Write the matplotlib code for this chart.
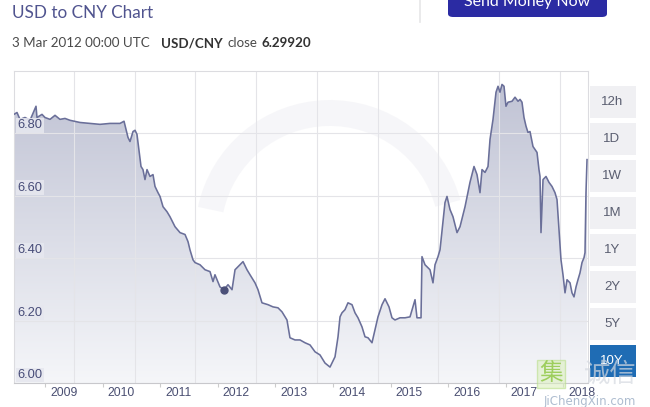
import numpy as np
import matplotlib
matplotlib.use("Agg")
import matplotlib.pyplot as plt
from matplotlib.colors import LinearSegmentedColormap
from matplotlib.patches import Rectangle, FancyBboxPatch, Polygon, Wedge
from matplotlib.transforms import ScaledTranslation

# USD/CNY close (fractional year, rate)
dates = [2008.462, 2008.514, 2008.566, 2008.653, 2008.740, 2008.844, 2008.861, 2008.948,
         2009.000, 2009.087, 2009.174, 2009.260, 2009.347, 2009.434, 2009.608, 2009.781,
         2009.955, 2010.128, 2010.302, 2010.372, 2010.441, 2010.476, 2010.528, 2010.563,
         2010.597, 2010.667, 2010.701, 2010.736, 2010.771, 2010.823, 2010.875, 2010.910,
         2010.962, 2010.997, 2011.049, 2011.118, 2011.170, 2011.257, 2011.344, 2011.431,
         2011.483, 2011.517, 2011.569, 2011.604, 2011.691, 2011.778, 2011.865, 2011.917,
         2011.951, 2012.038, 2012.108, 2012.177, 2012.247, 2012.299, 2012.385, 2012.438,
         2012.507, 2012.559, 2012.646, 2012.698, 2012.767, 2012.872, 2012.958, 2013.045,
         2013.115, 2013.201, 2013.253, 2013.340, 2013.427, 2013.514, 2013.601, 2013.688,
         2013.774, 2013.861, 2013.948, 2014.035, 2014.087, 2014.122, 2014.156, 2014.208,
         2014.260, 2014.330, 2014.382, 2014.434, 2014.503, 2014.556, 2014.608, 2014.677,
         2014.729, 2014.781, 2014.851, 2014.903, 2014.972, 2015.024, 2015.076, 2015.163,
         2015.250, 2015.337, 2015.424, 2015.458, 2015.528, 2015.545, 2015.597, 2015.684,
         2015.736, 2015.771, 2015.823, 2015.858, 2015.944, 2015.979, 2016.031, 2016.083,
         2016.153, 2016.205, 2016.292, 2016.378, 2016.448, 2016.500, 2016.552, 2016.587,
         2016.639, 2016.691, 2016.726, 2016.778, 2016.830, 2016.865, 2016.899, 2016.934,
         2016.969, 2017.003, 2017.038, 2017.108, 2017.160, 2017.212, 2017.247, 2017.281,
         2017.316, 2017.351, 2017.385, 2017.420, 2017.472, 2017.542, 2017.576, 2017.594,
         2017.611, 2017.646, 2017.698, 2017.750, 2017.802, 2017.854, 2017.889, 2017.924,
         2017.958, 2017.993, 2018.028, 2018.063, 2018.115, 2018.149, 2018.184, 2018.219,
         2018.253, 2018.288, 2018.323, 2018.358, 2018.375, 2018.392, 2018.410]
rates = [6.861, 6.867, 6.845, 6.851, 6.842, 6.887, 6.851, 6.861,
         6.851, 6.845, 6.858, 6.845, 6.848, 6.842, 6.835, 6.832,
         6.829, 6.832, 6.832, 6.839, 6.787, 6.774, 6.806, 6.810,
         6.797, 6.694, 6.684, 6.652, 6.684, 6.662, 6.668, 6.630,
         6.610, 6.598, 6.565, 6.549, 6.533, 6.501, 6.482, 6.476,
         6.453, 6.427, 6.395, 6.386, 6.379, 6.363, 6.357, 6.325,
         6.347, 6.308, 6.299, 6.315, 6.299, 6.363, 6.379, 6.389,
         6.363, 6.347, 6.321, 6.299, 6.257, 6.251, 6.244, 6.241,
         6.228, 6.202, 6.145, 6.138, 6.138, 6.129, 6.122, 6.100,
         6.090, 6.064, 6.051, 6.084, 6.148, 6.212, 6.225, 6.235,
         6.257, 6.251, 6.225, 6.209, 6.180, 6.148, 6.145, 6.129,
         6.170, 6.212, 6.251, 6.270, 6.244, 6.209, 6.202, 6.209,
         6.209, 6.212, 6.267, 6.209, 6.209, 6.405, 6.379, 6.363,
         6.321, 6.379, 6.405, 6.427, 6.578, 6.598, 6.556, 6.533,
         6.482, 6.501, 6.565, 6.643, 6.694, 6.668, 6.610, 6.684,
         6.675, 6.694, 6.781, 6.845, 6.932, 6.951, 6.932, 6.957,
         6.951, 6.887, 6.900, 6.903, 6.916, 6.903, 6.909, 6.900,
         6.851, 6.823, 6.803, 6.806, 6.758, 6.739, 6.684, 6.662,
         6.482, 6.652, 6.662, 6.643, 6.630, 6.610, 6.588, 6.492,
         6.395, 6.347, 6.289, 6.331, 6.321, 6.289, 6.276, 6.308,
         6.331, 6.353, 6.386, 6.402, 6.418, 6.610, 6.716]

year_ticks = list(range(2009, 2019))
rate_ticks = [6.00, 6.20, 6.40, 6.60, 6.80]
ranges = ["12h", "1D", "1W", "1M", "1Y", "2Y", "5Y", "10Y"]
marker_date, marker_rate = 2012.108, 6.2992

W, H = 650, 407
fig = plt.figure(figsize=(6.5, 4.07), dpi=100)
fig.patch.set_facecolor("white")


def fx(px):
    return px / W


def fy(py):
    return 1 - py / H


ax = fig.add_axes([fx(14), fy(383), fx(588) - fx(14), fy(71) - fy(383)])
ax.set_xlim(2008.462, 2018.427)
ax.set_ylim(6.0, 7.0)

# gradient area under the line
cmap = LinearSegmentedColormap.from_list("fade", ["#f5f6f9", "#bec1d3"])
grad = np.linspace(0, 1, 256).reshape(-1, 1)
verts = [(dates[0], 6.0)] + list(zip(dates, rates)) + [(dates[-1], 6.0)]
area = Polygon(verts, closed=True, facecolor="none", edgecolor="none")
ax.add_patch(area)
im = ax.imshow(grad, extent=[dates[0], dates[-1], 6.0, 7.0], origin="lower",
               aspect="auto", cmap=cmap, zorder=1)
im.set_clip_path(area)

# faint logo watermark ring
ring = Wedge((330, H - 235), 135, 15, 168, width=26, transform=None,
             facecolor="#e4e4ec", edgecolor="none", alpha=0.3, zorder=2)
ax.add_patch(ring)

ax.plot(dates, rates, color="#6a6f99", lw=1.15, zorder=3)
ax.plot([marker_date], [marker_rate], "o", color="#4b5078", ms=5, zorder=4)

# grid
ax.set_xticks(year_ticks)
ax.set_xticklabels([])
ax.set_xticks(np.arange(2009.503, 2018.4, 1.0547), minor=True)
ax.set_yticks(rate_ticks)
ax.set_yticklabels([])
ax.grid(which="minor", axis="x", color="#e4e4e8", lw=0.8, zorder=0)
ax.grid(which="major", axis="y", color="#e4e4e8", lw=0.8, zorder=0)
ax.tick_params(axis="x", which="major", length=3, color="#cccccc", direction="out")
ax.tick_params(axis="x", which="minor", length=0)
ax.tick_params(axis="y", length=0)
for s in ax.spines.values():
    s.set_color("#dcdce0")
    s.set_linewidth(0.8)
ax.spines["bottom"].set_color("#c8c8cc")

lbl_font = "Liberation Sans"
xoff = ax.get_xaxis_transform() + ScaledTranslation(5 / 100, -10 / 100, fig.dpi_scale_trans)
for yr in year_ticks:
    ax.text(yr, 0, str(yr), transform=xoff, ha="left", va="center",
            fontsize=8.7, color="#4a4f72", family=lbl_font, clip_on=False)

yoff = ax.get_yaxis_transform() + ScaledTranslation(0, 2 / 100, fig.dpi_scale_trans)
for r in rate_ticks:
    ax.text(0.006, r, f"{r:.2f}", transform=yoff, ha="left", va="bottom",
            fontsize=9.3, color="#474c78", family=lbl_font, zorder=5,
            bbox=dict(facecolor="#e6e7ef", edgecolor="none", pad=1.0, alpha=0.9))

# range buttons
for i, r in enumerate(ranges):
    yc = 102 + i * 37.0
    sel = r == "10Y"
    fig.patches.append(Rectangle((fx(590), fy(yc + 16)), fx(636) - fx(590), fy(yc - 16) - fy(yc + 16),
                                 transform=fig.transFigure, facecolor="#1f6cb4" if sel else "#f0f0f3",
                                 edgecolor="none"))
    fig.text(fx(612), fy(yc), r, ha="center", va="center", fontsize=9.5,
             color="white" if sel else "#5a5e70", family=lbl_font)

# header
fig.text(fx(12), fy(13), "USD to CNY Chart", fontsize=12.3, color="#50548f",
         va="center", ha="left", family="Lato")
fig.text(fx(12), fy(43), "3 Mar 2012 00:00 UTC", fontsize=9.6, color="#4a4a4a",
         va="center", ha="left", family="Lato")
fig.text(fx(161), fy(43), "USD/CNY", fontsize=9.6, color="#333333", weight="bold",
         va="center", ha="left", family="Lato")
fig.text(fx(227), fy(43), "close", fontsize=9.6, color="#4a4a4a",
         va="center", ha="left", family="Lato")
fig.text(fx(262), fy(43), "6.29920", fontsize=9.6, color="#333333", weight="bold",
         va="center", ha="left", family="Lato")

fig.lines.append(plt.Line2D([fx(420), fx(420)], [fy(0), fy(22)], transform=fig.transFigure,
                            color="#e6e6e8", lw=1.2))
fig.patches.append(FancyBboxPatch((fx(448), fy(17)), fx(607) - fx(448), fy(-10) - fy(17),
                                  boxstyle="round,pad=0,rounding_size=0.008",
                                  transform=fig.transFigure, facecolor="#2b2ba3", edgecolor="none"))
fig.text(fx(527), fy(2), "Send Money Now", ha="center", va="center", fontsize=11.5,
         color="white", family="Lato")

# watermark
cjk = ["Noto Sans CJK SC", "DejaVu Sans"]
fig.text(fx(551), fy(374), "集", ha="center", va="center", fontsize=17, color="#8cc63f",
         family=cjk, alpha=0.8,
         bbox=dict(facecolor="#dcefc0", edgecolor="#b9de8a", pad=1.5, alpha=0.6))
fig.text(fx(610), fy(374), "诚信", ha="center", va="center", fontsize=19, color="#d5d9e0",
         family=cjk, alpha=0.7)
fig.text(fx(590), fy(402), "JiChengXin.com", ha="center", va="center", fontsize=8.5,
         color="#aebdd0", family="DejaVu Sans")

fig.savefig("out.png", dpi=100)
